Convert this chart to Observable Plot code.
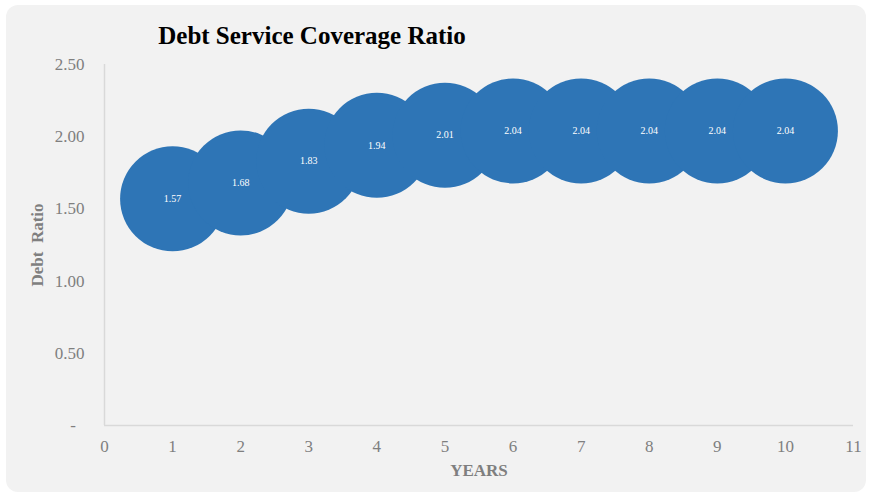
<!DOCTYPE html>
<html>
<head>
<meta charset="utf-8">
<script src="https://cdn.jsdelivr.net/npm/d3@7"></script>
<script src="https://cdn.jsdelivr.net/npm/@observablehq/plot@0.6"></script>
<style>
  html, body { margin: 0; padding: 0; background: #ffffff; }
  #wrap { position: relative; width: 869px; height: 495px; overflow: hidden; }
  #panel { position: absolute; left: 6px; top: 5px; width: 860px; height: 487px; border-radius: 12px; background: #f2f2f2; }
  #chart { position: absolute; left: 0; top: 0; }
</style>
</head>
<body>
<div id="wrap"><div id="panel"></div><div id="chart"></div></div>
<script>
const title = "Debt Service Coverage Ratio";
const xTitle = "YEARS";
const yTitle = "Debt  Ratio";
const years = [1, 2, 3, 4, 5, 6, 7, 8, 9, 10];
const ratios = [1.57, 1.68, 1.83, 1.94, 2.01, 2.04, 2.04, 2.04, 2.04, 2.04];
const xTicks = [0, 1, 2, 3, 4, 5, 6, 7, 8, 9, 10, 11];
const yTicks = [0, 0.5, 1, 1.5, 2, 2.5];

const data = years.map((y, i) => ({year: y, ratio: ratios[i]}));
const serif = "'Liberation Serif', 'Times New Roman', Times, serif";
const gray = "#7f7f7f";

const chart = Plot.plot({
  width: 869,
  height: 495,
  marginLeft: 104,
  marginRight: 16,
  marginTop: 64,
  marginBottom: 70,
  style: {background: "transparent", fontFamily: serif},
  x: {domain: [0, 11], nice: false},
  y: {domain: [0, 2.5], nice: false},
  marks: [
    Plot.ruleX([0], {stroke: "#d9d9d9", strokeWidth: 1.5}),
    Plot.ruleY([0], {stroke: "#d9d9d9", strokeWidth: 1.5}),
    Plot.axisX({ticks: xTicks, tickSize: 0, tickPadding: 14, fontSize: 17, fill: gray, label: null, tickFormat: d => String(d)}),
    Plot.axisY({ticks: yTicks, tickSize: 0, tickPadding: 20, fontSize: 17, fill: gray, label: null,
      tickFormat: d => d === 0 ? "-\u2007" : d.toFixed(2)}),
    Plot.dot(data, {x: "year", y: "ratio", r: 52.5, fill: "#2e75b6", stroke: "none"}),
    Plot.text(data, {x: "year", y: "ratio", text: d => d.ratio.toFixed(2), fill: "white", fontSize: 10}),
    Plot.text([title], {text: d => d, frameAnchor: "top", textAnchor: "middle", lineAnchor: "middle", dx: -167, dy: -29, fontSize: 25, fontWeight: "bold", fill: "black"}),
    Plot.text([xTitle], {text: d => d, frameAnchor: "bottom", textAnchor: "middle", lineAnchor: "middle", dy: 45, fontSize: 17, fontWeight: "bold", fill: gray}),
    Plot.text([yTitle], {text: d => d.replace(/ /g, "\u00a0"), frameAnchor: "left", textAnchor: "middle", lineAnchor: "middle", dx: -67, rotate: -90, fontSize: 17, fontWeight: "bold", fill: gray})
  ]
});
document.getElementById("chart").appendChild(chart);
</script>
</body>
</html>
